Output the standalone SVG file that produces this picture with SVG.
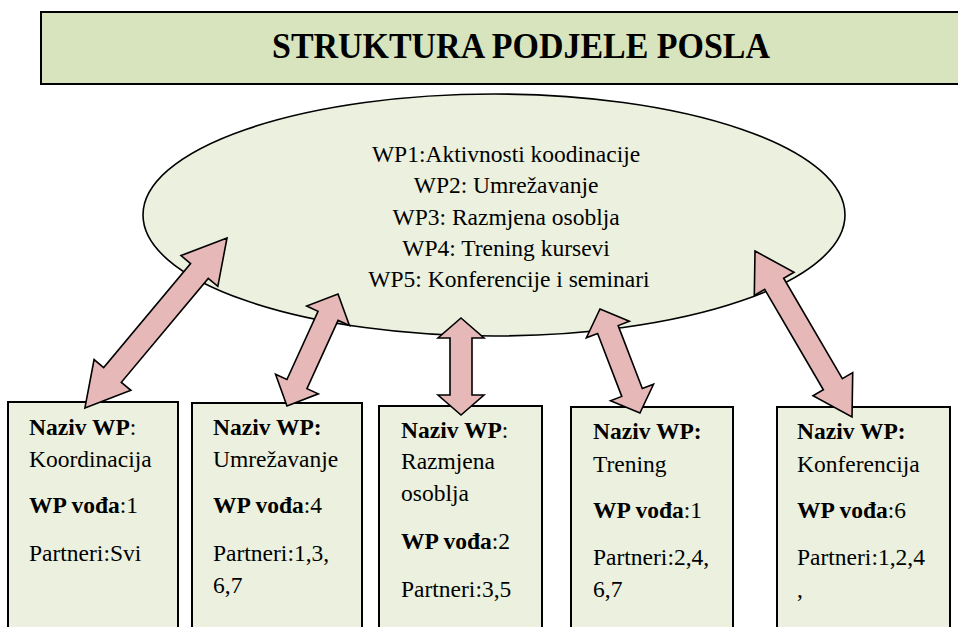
<svg xmlns="http://www.w3.org/2000/svg" width="958" height="627" viewBox="0 0 958 627">
<style>
  text { font-family: "Liberation Serif", "Times New Roman", serif; fill: #000; }
  .title { font-size: 35px; font-weight: bold; }
  .etxt { font-size: 23.5px; }
  .btxt { font-size: 23.5px; }
  .b { font-weight: bold; }
  .box { fill: #ebf1de; stroke: #000; stroke-width: 2; }
  .arrow { fill: #e6b9b8; stroke: #000; stroke-width: 1.6; stroke-linejoin: miter; }
</style>
<rect width="958" height="627" fill="#fff"/>
<g id="title">
  <rect x="41" y="12" width="930" height="72" fill="#d7e4bd" stroke="#000" stroke-width="2"/>
  <text class="title" x="521" y="58" text-anchor="middle" textLength="498" lengthAdjust="spacingAndGlyphs">STRUKTURA PODJELE POSLA</text>
</g>
<g id="ellipse">
  <ellipse cx="494" cy="215" rx="351" ry="121" fill="#ebf1de" stroke="#000" stroke-width="1.6"/>
  <text class="etxt" text-anchor="middle">
    <tspan x="509" y="162">WP1:Aktivnosti koodinacije</tspan>
    <tspan x="509" y="193">WP2: Umrežavanje</tspan>
    <tspan x="509" y="225">WP3: Razmjena osoblja</tspan>
    <tspan x="509" y="256">WP4: Trening kursevi</tspan>
    <tspan x="509" y="287">WP5: Konferencije i seminari</tspan>
  </text>
</g>
<g id="box1">
  <rect class="box" x="8" y="402" width="170" height="240"/>
  <text class="btxt"><tspan x="29" y="435" class="b">Naziv WP</tspan><tspan>:</tspan></text>
  <text class="btxt" x="29" y="467">Koordinacija</text>
  <text class="btxt"><tspan x="29" y="513" class="b">WP vođa</tspan><tspan>:1</tspan></text>
  <text class="btxt" x="29" y="561">Partneri:Svi</text>
</g>
<g id="box2">
  <rect class="box" x="192" y="403" width="170" height="240"/>
  <text class="btxt b" x="213" y="435">Naziv WP:</text>
  <text class="btxt" x="213" y="467">Umrežavanje</text>
  <text class="btxt"><tspan x="213" y="513" class="b">WP vođa</tspan><tspan>:4</tspan></text>
  <text class="btxt" x="213" y="561">Partneri:1,3,</text>
  <text class="btxt" x="213" y="593">6,7</text>
</g>
<g id="box3">
  <rect class="box" x="379" y="406" width="163" height="240"/>
  <text class="btxt"><tspan x="401" y="438" class="b">Naziv WP</tspan><tspan>:</tspan></text>
  <text class="btxt" x="401" y="469">Razmjena</text>
  <text class="btxt" x="401" y="501">osoblja</text>
  <text class="btxt"><tspan x="401" y="549" class="b">WP vođa</tspan><tspan>:2</tspan></text>
  <text class="btxt" x="401" y="597">Partneri:3,5</text>
</g>
<g id="box4">
  <rect class="box" x="571" y="407" width="162" height="240"/>
  <text class="btxt b" x="593" y="439">Naziv WP:</text>
  <text class="btxt" x="593" y="472">Trening</text>
  <text class="btxt"><tspan x="593" y="518" class="b">WP vođa</tspan><tspan>:1</tspan></text>
  <text class="btxt" x="593" y="565">Partneri:2,4,</text>
  <text class="btxt" x="593" y="597">6,7</text>
</g>
<g id="box5">
  <rect class="box" x="777" y="407" width="173" height="240"/>
  <text class="btxt b" x="797" y="439">Naziv WP:</text>
  <text class="btxt" x="797" y="472">Konferencija</text>
  <text class="btxt"><tspan x="797" y="518" class="b">WP vođa</tspan><tspan>:6</tspan></text>
  <text class="btxt" x="797" y="565">Partneri:1,2,4</text>
  <text class="btxt" x="797" y="597">,</text>
</g>
<g id="connectors">
  <polygon class="arrow" transform="translate(227,238) rotate(129.9)" points="0,0 43,-24 43,-11.5 178.5,-11.5 178.5,-24 221.5,0 178.5,24 178.5,11.5 43,11.5 43,24"/>
  <polygon class="arrow" transform="translate(338,294) rotate(114.5)" points="0,0 24,-23.5 24,-11 99,-11 99,-23.5 123,0 99,23.5 99,11 24,11 24,23.5"/>
  <polygon class="arrow" transform="translate(461,318) rotate(90)" points="0,0 20,-23 20,-11 77,-11 77,-23 97,0 77,23 77,11 20,11 20,23"/>
  <polygon class="arrow" transform="translate(600,309) rotate(69)" points="0,0 22,-23 22,-11 89.4,-11 89.4,-23 111.4,0 89.4,23 89.4,11 22,11 22,23"/>
  <polygon class="arrow" transform="translate(755,251) rotate(59.7)" points="0,0 38,-23 38,-11 154.3,-11 154.3,-23 192.3,0 154.3,23 154.3,11 38,11 38,23"/>
</g>
</svg>
